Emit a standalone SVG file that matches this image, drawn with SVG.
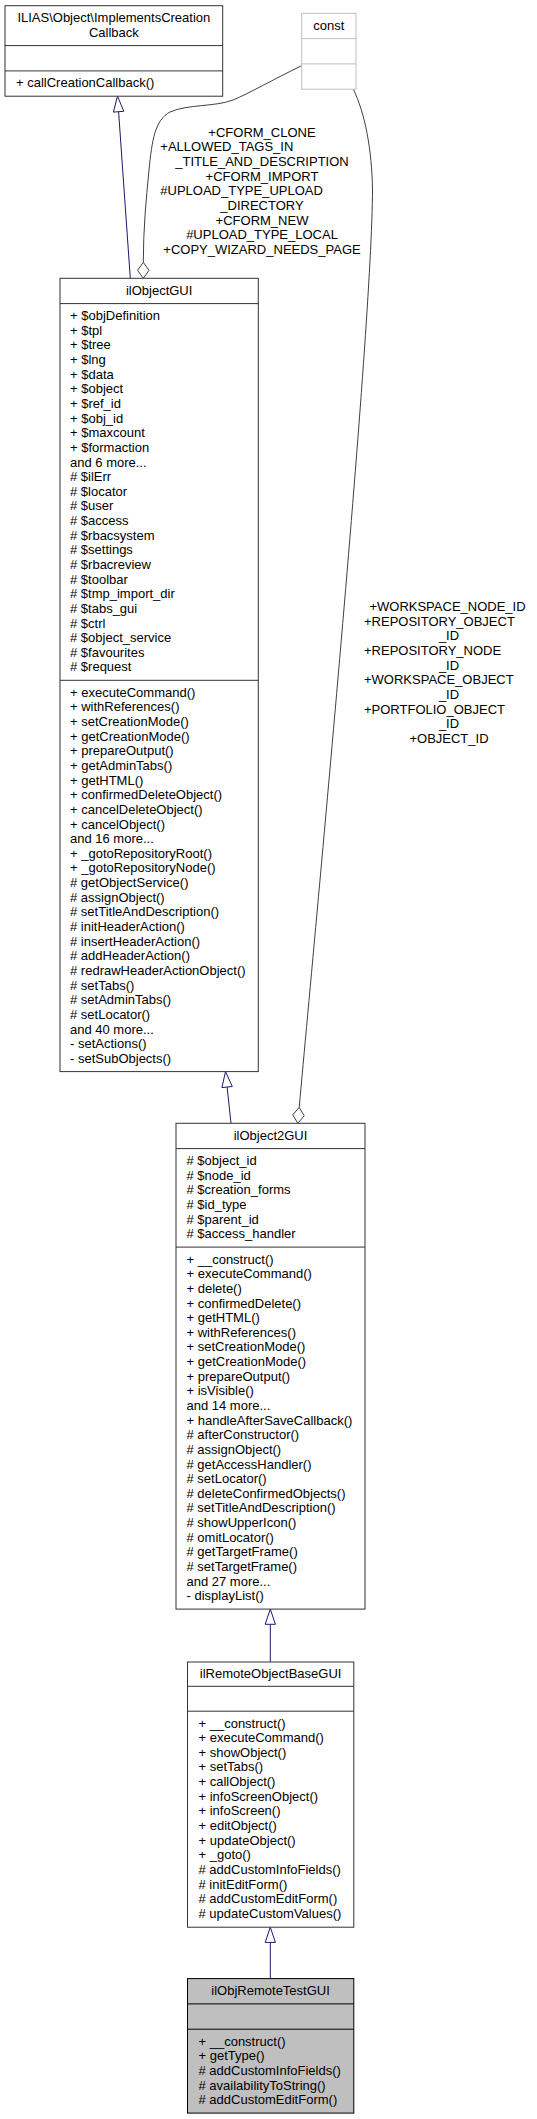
<svg xmlns="http://www.w3.org/2000/svg" width="537" height="2119" viewBox="0 0 537 2119">
<style>
text{font-family:"Liberation Sans",Arial,Helvetica,sans-serif;font-size:13px;fill:#000}
.c{text-anchor:middle}
.box{fill:#fff;stroke:#333;stroke-width:1}
.cur{fill:#bfbfbf;stroke:#000;stroke-width:1}
.cst{fill:#fff;stroke:#bfbfbf;stroke-width:1}
.sep{stroke:#333;stroke-width:1}
.sepc{stroke:#000;stroke-width:1}
.sepg{stroke:#bfbfbf;stroke-width:1}
.inh{fill:none;stroke:#191970;stroke-width:1}
.inhh{fill:#fff;stroke:#191970;stroke-width:1}
.agg{fill:none;stroke:#404040;stroke-width:1}
.aggh{fill:#fff;stroke:#404040;stroke-width:1}
</style>
<rect width="537" height="2119" fill="#fff"/>

<g id="connectors">
  <path class="inh" d="M130.3,278.3 L118.6,111.7"/>
  <polygon class="inhh" points="117.5,96.2 123.8,111.3 113.4,112.1"/>
  <path class="inh" d="M231,1123.3 L227.1,1087"/>
  <polygon class="inhh" points="225.5,1071.6 232.3,1086.5 221.9,1087.6"/>
  <path class="inh" d="M270.3,1662 L270.3,1624.3"/>
  <polygon class="inhh" points="270.3,1609.1 275.4,1624.3 265.2,1624.3"/>
  <path class="inh" d="M270.3,1978.6 L270.3,1942.4"/>
  <polygon class="inhh" points="270.3,1927.2 275.4,1942.4 265.2,1942.4"/>
  <path class="agg" d="M301.7,65.7 C272,80 250,93 233,100 C215,107 188,104 170,112 C155,120 152,140 149,170 C146,200 143.3,230 143.3,262.3"/>
  <polygon class="aggh" points="143.3,262.3 149,270.3 143.3,278.3 137.6,270.3"/>
  <path class="agg" d="M353.3,89.2 C365,113 372,150 372.5,190 C372,330 318,900 299.2,1107.4"/>
  <polygon class="aggh" points="299.2,1107.4 304.2,1115.8 297.8,1123.3 292.8,1114.8"/>
  <g id="label-const-ilObjectGUI">
    <text class="c" x="262" y="136.7">+CFORM_CLONE</text>
    <text x="160.3" y="151.3">+ALLOWED_TAGS_IN</text>
    <text class="c" x="262" y="166">_TITLE_AND_DESCRIPTION</text>
    <text class="c" x="262" y="180.6">+CFORM_IMPORT</text>
    <text x="160.3" y="195.3">#UPLOAD_TYPE_UPLOAD</text>
    <text class="c" x="262" y="209.9">_DIRECTORY</text>
    <text class="c" x="262" y="224.5">+CFORM_NEW</text>
    <text class="c" x="262" y="239.2">#UPLOAD_TYPE_LOCAL</text>
    <text class="c" x="262" y="253.8">+COPY_WIZARD_NEEDS_PAGE</text>
  </g>
  <g id="label-const-ilObject2GUI">
    <text class="c" x="447.5" y="611">+WORKSPACE_NODE_ID</text>
    <text x="364" y="625.6">+REPOSITORY_OBJECT</text>
    <text class="c" x="449" y="640.3">_ID</text>
    <text x="364" y="654.9">+REPOSITORY_NODE</text>
    <text class="c" x="449" y="669.6">_ID</text>
    <text x="364" y="684.2">+WORKSPACE_OBJECT</text>
    <text class="c" x="449" y="698.8">_ID</text>
    <text x="364" y="713.5">+PORTFOLIO_OBJECT</text>
    <text class="c" x="449" y="728.1">_ID</text>
    <text class="c" x="449" y="742.8">+OBJECT_ID</text>
  </g>
</g>

<g id="node-ImplementsCreationCallback">
  <rect class="box" x="5" y="5.7" width="217.7" height="90.5"/>
  <line class="sep" x1="5" y1="45.6" x2="222.7" y2="45.6"/>
  <line class="sep" x1="5" y1="70.9" x2="222.7" y2="70.9"/>
  <text class="c" x="113.85" y="22.2">ILIAS\Object\ImplementsCreation</text>
  <text class="c" x="113.85" y="36.8">Callback</text>
  <text x="16" y="87.4">+ callCreationCallback()</text>
</g>

<g id="node-const">
  <rect class="cst" x="301.7" y="13.3" width="54.3" height="75.9"/>
  <line class="sepg" x1="301.7" y1="38.6" x2="356" y2="38.6"/>
  <line class="sepg" x1="301.7" y1="63.9" x2="356" y2="63.9"/>
  <text class="c" x="328.85" y="29.8">const</text>
</g>

<g id="node-ilObjectGUI">
  <rect class="box" x="60" y="278.3" width="198.3" height="793.3"/>
  <line class="sep" x1="60" y1="303.6" x2="258.3" y2="303.6"/>
  <line class="sep" x1="60" y1="680.3" x2="258.3" y2="680.3"/>
  <text class="c" x="159.15" y="294.8">ilObjectGUI</text>
  <text x="70" y="320.1"><tspan x="70">+ $objDefinition</tspan><tspan x="70" dy="14.64">+ $tpl</tspan><tspan x="70" dy="14.64">+ $tree</tspan><tspan x="70" dy="14.64">+ $lng</tspan><tspan x="70" dy="14.64">+ $data</tspan><tspan x="70" dy="14.64">+ $object</tspan><tspan x="70" dy="14.64">+ $ref_id</tspan><tspan x="70" dy="14.64">+ $obj_id</tspan><tspan x="70" dy="14.64">+ $maxcount</tspan><tspan x="70" dy="14.64">+ $formaction</tspan><tspan x="70" dy="14.64">and 6 more...</tspan><tspan x="70" dy="14.64"># $ilErr</tspan><tspan x="70" dy="14.64"># $locator</tspan><tspan x="70" dy="14.64"># $user</tspan><tspan x="70" dy="14.64"># $access</tspan><tspan x="70" dy="14.64"># $rbacsystem</tspan><tspan x="70" dy="14.64"># $settings</tspan><tspan x="70" dy="14.64"># $rbacreview</tspan><tspan x="70" dy="14.64"># $toolbar</tspan><tspan x="70" dy="14.64"># $tmp_import_dir</tspan><tspan x="70" dy="14.64"># $tabs_gui</tspan><tspan x="70" dy="14.64"># $ctrl</tspan><tspan x="70" dy="14.64"># $object_service</tspan><tspan x="70" dy="14.64"># $favourites</tspan><tspan x="70" dy="14.64"># $request</tspan></text>
  <text x="70" y="696.8"><tspan x="70">+ executeCommand()</tspan><tspan x="70" dy="14.64">+ withReferences()</tspan><tspan x="70" dy="14.64">+ setCreationMode()</tspan><tspan x="70" dy="14.64">+ getCreationMode()</tspan><tspan x="70" dy="14.64">+ prepareOutput()</tspan><tspan x="70" dy="14.64">+ getAdminTabs()</tspan><tspan x="70" dy="14.64">+ getHTML()</tspan><tspan x="70" dy="14.64">+ confirmedDeleteObject()</tspan><tspan x="70" dy="14.64">+ cancelDeleteObject()</tspan><tspan x="70" dy="14.64">+ cancelObject()</tspan><tspan x="70" dy="14.64">and 16 more...</tspan><tspan x="70" dy="14.64">+ _gotoRepositoryRoot()</tspan><tspan x="70" dy="14.64">+ _gotoRepositoryNode()</tspan><tspan x="70" dy="14.64"># getObjectService()</tspan><tspan x="70" dy="14.64"># assignObject()</tspan><tspan x="70" dy="14.64"># setTitleAndDescription()</tspan><tspan x="70" dy="14.64"># initHeaderAction()</tspan><tspan x="70" dy="14.64"># insertHeaderAction()</tspan><tspan x="70" dy="14.64"># addHeaderAction()</tspan><tspan x="70" dy="14.64"># redrawHeaderActionObject()</tspan><tspan x="70" dy="14.64"># setTabs()</tspan><tspan x="70" dy="14.64"># setAdminTabs()</tspan><tspan x="70" dy="14.64"># setLocator()</tspan><tspan x="70" dy="14.64">and 40 more...</tspan><tspan x="70" dy="14.64">- setActions()</tspan><tspan x="70" dy="14.64">- setSubObjects()</tspan></text>
</g>

<g id="node-ilObject2GUI">
  <rect class="box" x="176" y="1123.3" width="189" height="485.8"/>
  <line class="sep" x1="176" y1="1148.6" x2="365" y2="1148.6"/>
  <line class="sep" x1="176" y1="1247.1" x2="365" y2="1247.1"/>
  <text class="c" x="270.5" y="1139.8">ilObject2GUI</text>
  <text x="186.5" y="1165.1"><tspan x="186.5"># $object_id</tspan><tspan x="186.5" dy="14.64"># $node_id</tspan><tspan x="186.5" dy="14.64"># $creation_forms</tspan><tspan x="186.5" dy="14.64"># $id_type</tspan><tspan x="186.5" dy="14.64"># $parent_id</tspan><tspan x="186.5" dy="14.64"># $access_handler</tspan></text>
  <text x="186.5" y="1263.6"><tspan x="186.5">+ __construct()</tspan><tspan x="186.5" dy="14.64">+ executeCommand()</tspan><tspan x="186.5" dy="14.64">+ delete()</tspan><tspan x="186.5" dy="14.64">+ confirmedDelete()</tspan><tspan x="186.5" dy="14.64">+ getHTML()</tspan><tspan x="186.5" dy="14.64">+ withReferences()</tspan><tspan x="186.5" dy="14.64">+ setCreationMode()</tspan><tspan x="186.5" dy="14.64">+ getCreationMode()</tspan><tspan x="186.5" dy="14.64">+ prepareOutput()</tspan><tspan x="186.5" dy="14.64">+ isVisible()</tspan><tspan x="186.5" dy="14.64">and 14 more...</tspan><tspan x="186.5" dy="14.64">+ handleAfterSaveCallback()</tspan><tspan x="186.5" dy="14.64"># afterConstructor()</tspan><tspan x="186.5" dy="14.64"># assignObject()</tspan><tspan x="186.5" dy="14.64"># getAccessHandler()</tspan><tspan x="186.5" dy="14.64"># setLocator()</tspan><tspan x="186.5" dy="14.64"># deleteConfirmedObjects()</tspan><tspan x="186.5" dy="14.64"># setTitleAndDescription()</tspan><tspan x="186.5" dy="14.64"># showUpperIcon()</tspan><tspan x="186.5" dy="14.64"># omitLocator()</tspan><tspan x="186.5" dy="14.64"># getTargetFrame()</tspan><tspan x="186.5" dy="14.64"># setTargetFrame()</tspan><tspan x="186.5" dy="14.64">and 27 more...</tspan><tspan x="186.5" dy="14.64">- displayList()</tspan></text>
</g>

<g id="node-ilRemoteObjectBaseGUI">
  <rect class="box" x="187.5" y="1662" width="166.3" height="265.2"/>
  <line class="sep" x1="187.5" y1="1686.3" x2="353.8" y2="1686.3"/>
  <line class="sep" x1="187.5" y1="1711.2" x2="353.8" y2="1711.2"/>
  <text class="c" x="270.6" y="1677.5">ilRemoteObjectBaseGUI</text>
  <text x="198.5" y="1727.5"><tspan x="198.5">+ __construct()</tspan><tspan x="198.5" dy="14.64">+ executeCommand()</tspan><tspan x="198.5" dy="14.64">+ showObject()</tspan><tspan x="198.5" dy="14.64">+ setTabs()</tspan><tspan x="198.5" dy="14.64">+ callObject()</tspan><tspan x="198.5" dy="14.64">+ infoScreenObject()</tspan><tspan x="198.5" dy="14.64">+ infoScreen()</tspan><tspan x="198.5" dy="14.64">+ editObject()</tspan><tspan x="198.5" dy="14.64">+ updateObject()</tspan><tspan x="198.5" dy="14.64">+ _goto()</tspan><tspan x="198.5" dy="14.64"># addCustomInfoFields()</tspan><tspan x="198.5" dy="14.64"># initEditForm()</tspan><tspan x="198.5" dy="14.64"># addCustomEditForm()</tspan><tspan x="198.5" dy="14.64"># updateCustomValues()</tspan></text>
</g>

<g id="node-ilObjRemoteTestGUI">
  <rect class="cur" x="187.5" y="1978.6" width="166.3" height="134.5"/>
  <line class="sepc" x1="187.5" y1="2003.9" x2="353.8" y2="2003.9"/>
  <line class="sepc" x1="187.5" y1="2029.2" x2="353.8" y2="2029.2"/>
  <text class="c" x="270.6" y="1995.1">ilObjRemoteTestGUI</text>
  <text x="198.5" y="2045.7"><tspan x="198.5">+ __construct()</tspan><tspan x="198.5" dy="14.64">+ getType()</tspan><tspan x="198.5" dy="14.64"># addCustomInfoFields()</tspan><tspan x="198.5" dy="14.64"># availabilityToString()</tspan><tspan x="198.5" dy="14.64"># addCustomEditForm()</tspan></text>
</g>
</svg>
